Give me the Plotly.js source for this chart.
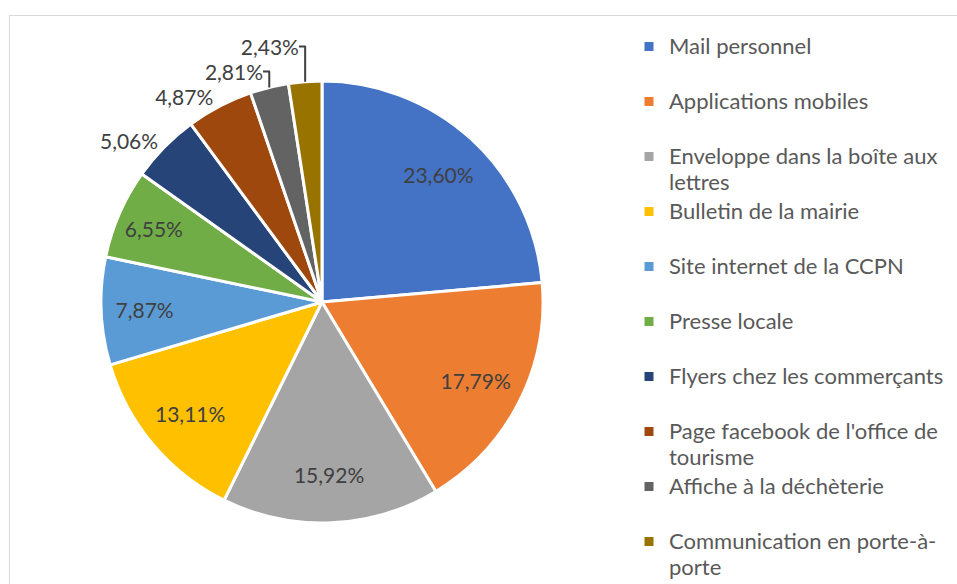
<!DOCTYPE html>
<html>
<head>
<meta charset="utf-8">
<script src="https://cdn.plot.ly/plotly-3.0.1.min.js"></script>
<style>
  html, body { margin: 0; padding: 0; background: #ffffff; overflow: hidden; }
  #wrap { position: relative; width: 957px; height: 584px; overflow: hidden; }
  #chart { width: 957px; height: 620px; }
  #frame { position: absolute; left: 9px; top: 15px; width: 980px; height: 620px;
           border: 1.5px solid #d9d9d9; pointer-events: none; box-sizing: border-box; }
</style>
</head>
<body>
<div id="wrap">
  <div id="chart"></div>
  <div id="frame"></div>
</div>
<script>
const categories = [
  ["Mail personnel"],
  ["Applications mobiles"],
  ["Enveloppe dans la boîte aux", "lettres"],
  ["Bulletin de la mairie"],
  ["Site internet de la CCPN"],
  ["Presse locale"],
  ["Flyers chez les commerçants"],
  ["Page facebook de l'office de", "tourisme"],
  ["Affiche à la déchèterie"],
  ["Communication en porte-à-", "porte"]
];
const values = [23.60, 17.79, 15.92, 13.11, 7.87, 6.55, 5.06, 4.87, 2.81, 2.43];
const colors = ["#4472C4", "#ED7D31", "#A5A5A5", "#FFC000", "#5B9BD5",
                "#70AD47", "#264478", "#9E480E", "#636363", "#997300"];
const labelPositions = ["inside", "inside", "inside", "inside", "inside",
                        "inside", "outside", "outside", "outside", "outside"];

const span = s => '<span style="font-size:22px">' + s + '</span>';
const legendLabels = categories.map(lines => {
  const parts = lines.map(span);
  if (parts.length < 2) parts.push(" ");
  return parts.join("<br>");
});
const pctText = values.map(v => v.toFixed(2).replace(".", ",") + "%");

// Layout is a little taller than the visible 584px window so the legend is never clamped
const W = 957, H = 620;
const cx = 322, cy = 302, R = 221;
const FONT = "Lato, 'Liberation Sans', sans-serif";
const domain = { x: [(cx - R) / W, (cx + R) / W], y: [1 - (cy + R) / H, 1 - (cy - R) / H] };

// Visible pie: slices, separators and legend
const pieTrace = {
  type: "pie",
  labels: legendLabels,
  values: values,
  textinfo: "none",
  hoverinfo: "label+percent",
  sort: false,
  direction: "clockwise",
  rotation: 0,
  marker: { colors: colors, line: { color: "#ffffff", width: 3 } },
  domain: domain
};

// Transparent ring carrying the percentage labels (places them further out, as in the original)
const labelTrace = {
  type: "pie",
  labels: legendLabels,
  values: values,
  text: pctText,
  textinfo: "text",
  hoverinfo: "skip",
  showlegend: false,
  sort: false,
  direction: "clockwise",
  rotation: 0,
  hole: 0.56,
  textposition: labelPositions,
  insidetextorientation: "horizontal",
  textfont: { family: FONT, size: 21, color: "#404040" },
  outsidetextfont: { family: FONT, size: 21, color: "#404040" },
  marker: { colors: colors.map(() => "rgba(0,0,0,0)"), line: { color: "rgba(0,0,0,0)", width: 0 } },
  domain: domain
};

const layout = {
  width: W, height: H,
  margin: { l: 0, r: 0, t: 0, b: 0 },
  paper_bgcolor: "#ffffff",
  showlegend: true,
  uniformtext: { mode: "show", minsize: 21 },
  legend: {
    x: 629 / W, xanchor: "left",
    y: 1 - 27 / H, yanchor: "top",
    valign: "top",
    font: { family: FONT, size: 20, color: "#595959" },
    bgcolor: "rgba(0,0,0,0)"
  }
};

Plotly.newPlot("chart", [pieTrace, labelTrace], layout, { displayModeBar: false, staticPlot: true });
</script>
</body>
</html>
